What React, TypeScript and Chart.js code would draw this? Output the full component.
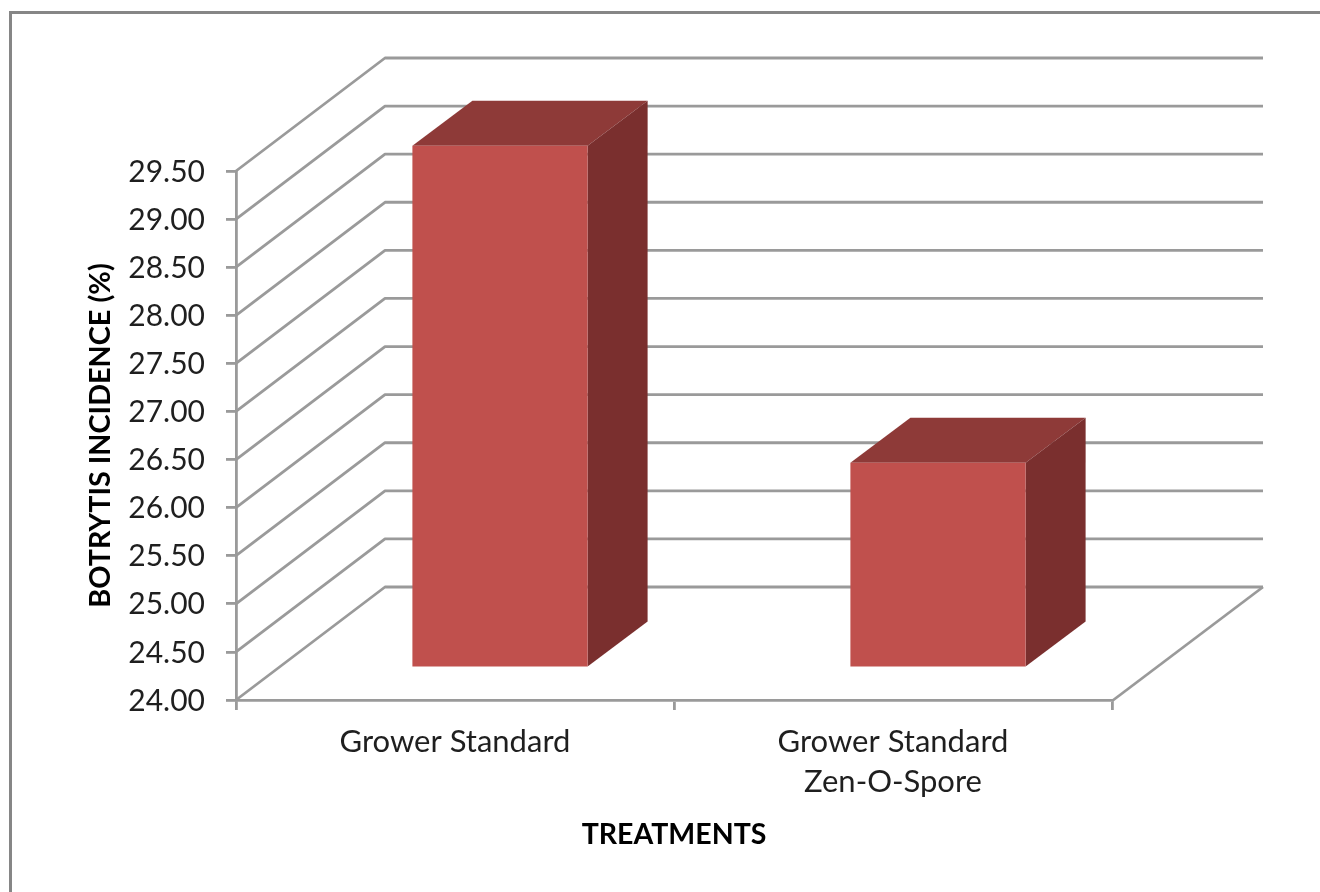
import React, { useEffect, useRef } from "react";
import { Chart, registerables } from "chart.js";

Chart.register(...registerables);

const categories: (string | string[])[] = ["Grower Standard", ["Grower Standard", "Zen-O-Spore"]];
const incidence = [29.43, 26.135];
const yTitle = "BOTRYTIS INCIDENCE (%)";
const xTitle = "TREATMENTS";

const DEPTH_X = 149;
const DEPTH_Y = 113;
const NEAR_X = 45;
const NEAR_Y = 32;
const BOX_DX = 60;
const BOX_DY = 45;
const LINE = "#9a9a9a";
const LINE_W = 2.8;
const FONT = "Lato, Carlito, sans-serif";

function poly(ctx: CanvasRenderingContext2D, pts: number[][], fill: string) {
  ctx.beginPath();
  pts.forEach(([x, y], i) => (i ? ctx.lineTo(x, y) : ctx.moveTo(x, y)));
  ctx.closePath();
  ctx.fillStyle = fill;
  ctx.fill();
}

const frame = {
  id: "frame",
  beforeDraw(chart: any) {
    const { ctx } = chart;
    ctx.save();
    ctx.fillStyle = "#ffffff";
    ctx.fillRect(0, 0, chart.width, chart.height);
    ctx.strokeStyle = "#868686";
    ctx.lineWidth = 3;
    ctx.beginPath();
    ctx.moveTo(10.5, chart.height + 5);
    ctx.lineTo(10.5, 12.5);
    ctx.lineTo(chart.width + 5, 12.5);
    ctx.stroke();
    ctx.restore();
  },
};

const walls = {
  id: "walls",
  beforeDatasetsDraw(chart: any) {
    const { ctx, chartArea, scales } = chart;
    const { left, right } = chartArea;
    const yScale = scales.y;
    ctx.save();
    ctx.strokeStyle = LINE;
    ctx.lineWidth = LINE_W;
    ctx.lineJoin = "round";
    yScale.ticks.forEach((t: any) => {
      const y = yScale.getPixelForValue(t.value);
      ctx.beginPath();
      ctx.moveTo(left, y);
      ctx.lineTo(left + DEPTH_X, y - DEPTH_Y);
      ctx.lineTo(right + DEPTH_X + 2, y - DEPTH_Y);
      ctx.stroke();
    });
    const y0 = yScale.getPixelForValue(yScale.min);
    ctx.beginPath();
    ctx.moveTo(right, y0 + 1);
    ctx.lineTo(right + DEPTH_X + 2, y0 - DEPTH_Y);
    ctx.stroke();
    ctx.restore();
  },
};

const boxes = {
  id: "boxes",
  beforeDatasetDraw(chart: any, args: any) {
    const { ctx } = chart;
    ctx.save();
    args.meta.data.forEach((bar: any) => {
      const p = bar.getProps(["x", "y", "base", "width"], true);
      const l = p.x - p.width / 2 + NEAR_X;
      const r = p.x + p.width / 2 + NEAR_X;
      const t = p.y - NEAR_Y;
      const b = p.base - NEAR_Y;
      poly(ctx, [[l, t], [l + BOX_DX, t - BOX_DY], [r + BOX_DX, t - BOX_DY], [r, t]], "#8e3a38");
      poly(ctx, [[r, t], [r + BOX_DX, t - BOX_DY], [r + BOX_DX, b - BOX_DY], [r, b]], "#7a2f2e");
    });
    ctx.restore();
    ctx.save();
    ctx.translate(NEAR_X, -NEAR_Y);
  },
  afterDatasetDraw(chart: any) {
    chart.ctx.restore();
  },
};

export default function App() {
  const ref = useRef<HTMLCanvasElement>(null);
  useEffect(() => {
    document.body.style.margin = "0";
    document.body.style.background = "#fff";
    const chart = new Chart(ref.current!, {
      type: "bar",
      data: {
        labels: categories as any,
        datasets: [
          {
            data: incidence,
            base: 24,
            backgroundColor: "#c0504d",
            borderWidth: 0,
            barPercentage: 0.4,
            categoryPercentage: 1,
          },
        ],
      },
      options: {
        animation: false,
        responsive: false,
        layout: { padding: { top: 171, right: 208, left: 0, bottom: 0 } },
        plugins: { legend: { display: false }, tooltip: { enabled: false } },
        scales: {
          x: {
            afterFit: (s: any) => {
              s.height = 192;
            },
            border: { color: LINE, width: LINE_W },
            grid: { drawOnChartArea: false, color: LINE, lineWidth: LINE_W, tickLength: 10, offset: true },
            ticks: {
              color: "#1f1f1f",
              font: { family: FONT, size: 31, lineHeight: 1.3 },
              padding: 12,
              maxRotation: 0,
              autoSkip: false,
            },
            title: {
              display: true,
              text: xTitle,
              color: "#000000",
              font: { family: FONT, size: 28.5, weight: "bold" },
              padding: { top: 0, bottom: 40 },
            },
          },
          y: {
            min: 24,
            max: 29.5,
            afterFit: (s: any) => {
              s.width = 236;
            },
            border: { color: LINE, width: LINE_W },
            grid: { drawOnChartArea: false, color: LINE, lineWidth: LINE_W, tickLength: 10 },
            ticks: {
              stepSize: 0.5,
              color: "#1f1f1f",
              font: { family: FONT, size: 30 },
              padding: 21,
              labelOffset: 1,
              callback: (v: any) => Number(v).toFixed(2),
            },
            title: {
              display: true,
              text: yTitle,
              color: "#000000",
              font: { family: FONT, size: 28.8, weight: "bold" },
              padding: { top: 83, bottom: 0 },
            },
          },
        },
      },
      plugins: [frame, walls, boxes],
    } as any);
    return () => chart.destroy();
  }, []);
  return <canvas ref={ref} width={1320} height={892} style={{ display: "block", filter: "blur(0.5px)" }} />;
}
